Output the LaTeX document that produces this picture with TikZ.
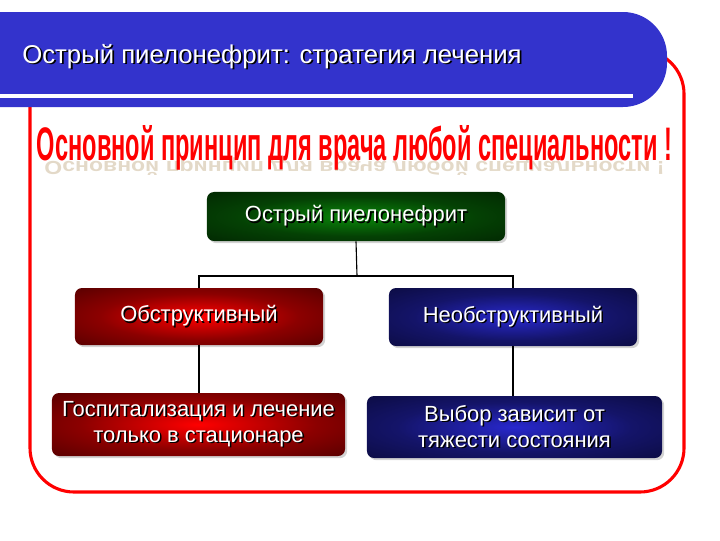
\documentclass[tikz,border=0pt]{standalone}
\usepackage{fontspec}
\setmainfont{Liberation Sans}
\usetikzlibrary{positioning, shadows}
\usepackage{xcolor}
\definecolor{hdrblue}{RGB}{51, 51, 204}
\definecolor{frmred}{RGB}{255, 0, 0}
\definecolor{echotan}{RGB}{176, 146, 96}
\definecolor{gin}{RGB}{10, 135, 10}
\definecolor{gmid}{RGB}{4, 65, 4}
\definecolor{gout}{RGB}{0, 22, 0}
\definecolor{rin}{RGB}{255, 0, 0}
\definecolor{rmid}{RGB}{140, 0, 0}
\definecolor{rout}{RGB}{50, 0, 0}
\definecolor{bin}{RGB}{40, 40, 205}
\definecolor{bmid}{RGB}{20, 20, 105}
\definecolor{bout}{RGB}{6, 6, 40}
\pgfdeclareradialshading{glowgreen}{\pgfpoint{0bp}{0bp}}{color(0bp)=(gin); color(20bp)=(gmid); color(48bp)=(gout); color(50bp)=(gout)}
\pgfdeclareradialshading{glowred}{\pgfpoint{0bp}{0bp}}{color(0bp)=(rin); color(20bp)=(rmid); color(48bp)=(rout); color(50bp)=(rout)}
\pgfdeclareradialshading{glowblue}{\pgfpoint{0bp}{0bp}}{color(0bp)=(bin); color(20bp)=(bmid); color(48bp)=(bout); color(50bp)=(bout)}
\newcommand\shtxt[1]{\leavevmode\rlap{\kern0.07em\raisebox{-0.07em}{\color{black}#1}}#1}

\begin{document}
\begin{tikzpicture}[x=0.025cm, y=-0.025cm,
  boxbase/.style={rectangle, rounded corners=5pt, align=center, text=white,
                  font=\fontsize{15.6}{18.5}\selectfont, inner sep=2pt,
                  drop shadow={shadow xshift=1.5pt, shadow yshift=-1.5pt, opacity=0.35}},
  greenbox/.style={boxbase, shading=glowgreen},
  redbox/.style={boxbase, shading=glowred},
  bluebox/.style={boxbase, shading=glowblue},
  redframe/.style={draw=frmred, line width=2.2pt, rounded corners=1.1cm},
  hdrtitle/.style={text=white, font=\fontsize{18.3}{20}\selectfont, inner sep=0pt},
  motto/.style={text=frmred, inner sep=0pt},
  echo/.style={text=echotan, opacity=0.35, inner sep=0pt},
  link/.style={draw=black, line width=0.8pt}
]
\useasboundingbox (0,0) rectangle (720,540);

% red frame, its top hidden under the header
\draw[redframe] (30,50) rectangle (684,492);

% header band
\fill[hdrblue, rounded corners=1.1cm] (-100,12) rectangle (667,107);
\draw[white, line width=2.2pt] (0,96) -- (633,96);
\node[hdrtitle, anchor=base west] (title) at (22,63)
  {\shtxt{Острый пиелонефрит: стратегия лечения}};

% motto and its reflection
\node[echo, anchor=north] (mottoecho) at (354.5,157)
  {\scalebox{1}[-0.4]{\resizebox{15.5cm}{0.875cm}{\bfseries Основной принцип для врача любой специальности !}}};
\node[motto, anchor=base] (motto) at (354.5,160)
  {\resizebox{15.875cm}{0.875cm}{\bfseries Основной принцип для врача любой специальности !}};

% boxes
\node[greenbox, minimum width=7.45cm, minimum height=1.225cm] (acute) at (356,216.5)
  {\shtxt{Острый пиелонефрит}};
\node[redbox, minimum width=6.2cm, minimum height=1.425cm] (obstr) at (199,316.5)
  {\shtxt{Обструктивный}};
\node[bluebox, minimum width=6.2cm, minimum height=1.45cm] (nonobstr) at (513,317)
  {\shtxt{Необструктивный}};
\node[redbox, minimum width=7.325cm, minimum height=1.575cm] (hosp) at (198.5,424.5)
  {\shtxt{Госпитализация и лечение}\\\shtxt{только в стационаре}};
\node[bluebox, minimum width=7.375cm, minimum height=1.55cm] (choice) at (514.5,427)
  {\shtxt{Выбор зависит от}\\\shtxt{тяжести состояния}};

% connectors
\coordinate (fork) at (357,276);
\draw[link] (acute.south) -- (fork);
\draw[link] (obstr.north) |- (fork) -| (nonobstr.north);
\draw[link] (obstr.south) -- (obstr.south |- hosp.north);
\draw[link] (nonobstr.south) -- (nonobstr.south |- choice.north);

\end{tikzpicture}
\end{document}
